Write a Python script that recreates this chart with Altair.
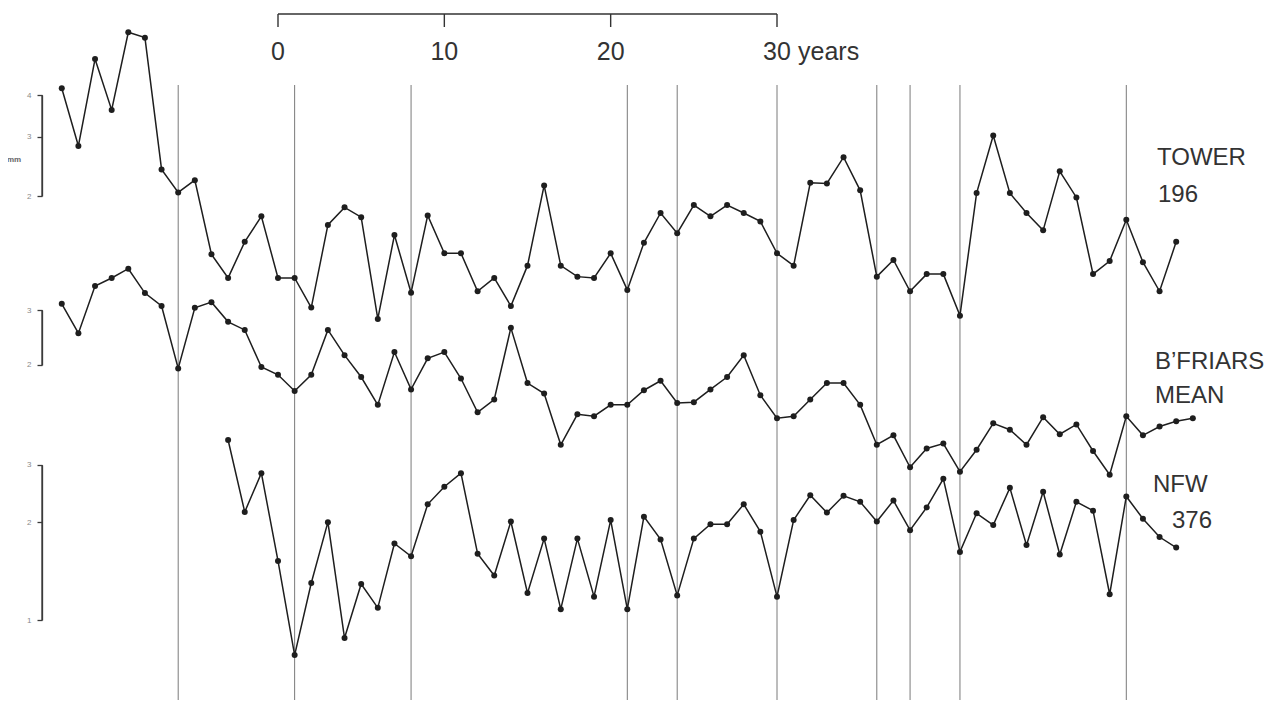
import math
import altair as alt
import pandas as pd

# ---------------- data (ring widths, mm) ----------------
tower_start = -13
tower_mm = [4.19, 2.82, 5.12, 3.61, 6.15, 5.93, 2.40, 2.05, 2.23, 1.34,
            1.14, 1.46, 1.74, 1.14, 1.14, 0.93, 1.64, 1.85, 1.73, 0.86,
            1.53, 1.03, 1.75, 1.35, 1.35, 1.04, 1.14, 0.94, 1.24, 2.15,
            1.24, 1.15, 1.14, 1.35, 1.05, 1.45, 1.78, 1.55, 1.88, 1.74,
            1.88, 1.78, 1.68, 1.35, 1.24, 2.19, 2.18, 2.61, 2.08, 1.15,
            1.29, 1.04, 1.17, 1.17, 0.88, 2.04, 3.03, 2.04, 1.78, 1.58,
            2.37, 1.98, 1.17, 1.28, 1.70, 1.27, 1.04, 1.46]

bf_start = -13
bf_mm = [3.14, 2.53, 3.58, 3.80, 4.07, 3.40, 3.09, 1.95, 3.05, 3.18,
         2.75, 2.59, 1.97, 1.86, 1.65, 1.86, 2.59, 2.15, 1.83, 1.49,
         2.20, 1.67, 2.10, 2.20, 1.81, 1.41, 1.55, 2.63, 1.75, 1.62,
         1.11, 1.39, 1.37, 1.49, 1.49, 1.66, 1.78, 1.51, 1.52, 1.67,
         1.83, 2.15, 1.60, 1.35, 1.37, 1.55, 1.75, 1.75, 1.49, 1.11,
         1.19, 0.94, 1.08, 1.12, 0.91, 1.07, 1.30, 1.24, 1.11, 1.36,
         1.20, 1.29, 1.06, 0.89, 1.37, 1.19, 1.27, 1.32, 1.35]

nfw_start = -3
nfw_mm = [3.58, 2.15, 2.83, 1.52, 0.78, 1.30, 2.00, 0.88, 1.29, 1.09,
          1.72, 1.57, 2.27, 2.57, 2.83, 1.60, 1.37, 2.01, 1.21, 1.78,
          1.08, 1.78, 1.18, 2.03, 1.08, 2.08, 1.77, 1.19, 1.78, 1.97,
          1.97, 2.27, 1.87, 1.18, 2.03, 2.42, 2.14, 2.41, 2.31, 2.01,
          2.33, 1.89, 2.22, 2.72, 1.62, 2.13, 1.96, 2.55, 1.70, 2.48,
          1.59, 2.31, 2.17, 1.20, 2.40, 2.05, 1.80, 1.67]

marker_years = [-6, 1, 8, 21, 24, 30, 36, 38, 41, 51]
scale_ticks = [0, 10, 20, 30]
scale_labels = ["0", "10", "20", "30"]

tower_axis = [4, 3, 2]
bf_axis = [3, 2]
nfw_axis = [3, 2, 1]

FONT = "Liberation Sans"
INK = "#1e1e1e"
AXC = "#3a3a3a"

xs = alt.Scale(domain=[0, 30], range=[270, 769], nice=False)


def series_marks(key, start, vals, axis_vals, y_at_1, px_per_decade, mm_label=False):
    """Each series has its own log scale; its axis is the short bracket
    spanning the labelled values (scale domain = bracket span)."""
    yf = "mm_" + key
    df = pd.DataFrame({"year": list(range(start, start + len(vals))), yf: vals})
    lo, hi = min(axis_vals), max(axis_vals)
    rng = [y_at_1 - px_per_decade * math.log10(lo),
           y_at_1 - px_per_decade * math.log10(hi)]
    ys = alt.Scale(type="log", domain=[lo, hi], range=rng, nice=False)
    bracket_axis = alt.Axis(
        orient="left", offset=-34, values=sorted(axis_vals), title=None,
        grid=False, domainColor=AXC, domainWidth=1.3, tickColor=AXC,
        tickWidth=1.3, tickSize=5, labelFont=FONT, labelFontSize=8,
        labelColor="#8a8a8a", labelPadding=6, labelFlush=False,
        labelOverlap=False, format="d", zindex=2,
    )
    base = alt.Chart(df)
    line = base.mark_line(color=INK, strokeWidth=1.5).encode(
        x=alt.X("year:Q", scale=xs, axis=None),
        y=alt.Y(yf + ":Q", scale=ys, axis=bracket_axis),
    )
    pts = base.mark_circle(color=INK, size=36, opacity=1).encode(
        x=alt.X("year:Q", scale=xs, axis=None),
        y=alt.Y(yf + ":Q", scale=ys, axis=None),
    )
    sdf = pd.DataFrame({"lo_" + key: [float(lo)], "hi_" + key: [float(hi)]})
    spine = alt.Chart(sdf).mark_rule(color=AXC, strokeWidth=1.3).encode(
        x=alt.value(34),
        y=alt.Y("lo_" + key + ":Q", scale=ys, axis=None),
        y2=alt.Y2("hi_" + key + ":Q"),
    )
    layers = [line, pts]
    if mm_label:
        layers.append(
            alt.Chart(pd.DataFrame({"t": ["mm"]})).mark_text(
                font=FONT, fontSize=8, fontWeight="bold", color="#666666",
                align="center", baseline="middle"
            ).encode(x=alt.value(6), y=alt.value(152), text="t:N")
        )
    return layers, spine


tower, tower_spine = series_marks("t", tower_start, tower_mm, tower_axis, 289.0, 335.5, mm_label=True)
bf, bf_spine = series_marks("b", bf_start, bf_mm, bf_axis, 450.9, 312.0)
nfw, nfw_spine = series_marks("n", nfw_start, nfw_mm, nfw_axis, 612.0, 325.0)

vlines = alt.Chart(pd.DataFrame({"year": marker_years})).mark_rule(
    color="#7a7a7a", strokeWidth=1
).encode(
    x=alt.X("year:Q", scale=xs, axis=None),
    y=alt.value(77), y2=alt.value(692),
)

bar_df = pd.DataFrame({"a": [scale_ticks[0]], "b": [scale_ticks[-1]]})
topbar = alt.Chart(bar_df).mark_rule(color="#333333", strokeWidth=1.4).encode(
    x=alt.X("a:Q", scale=xs, axis=None), x2="b:Q", y=alt.value(6)
)
tick_df = pd.DataFrame({"t": scale_ticks, "lab": scale_labels})
topticks = alt.Chart(tick_df).mark_rule(color="#333333", strokeWidth=1.4).encode(
    x=alt.X("t:Q", scale=xs, axis=None), y=alt.value(6), y2=alt.value(19)
)
toplabels = alt.Chart(tick_df).mark_text(
    font=FONT, fontSize=25, color="#333333", align="center", baseline="middle"
).encode(x=alt.X("t:Q", scale=xs, axis=None), y=alt.value(44), text="lab:N")
years_lbl = alt.Chart(pd.DataFrame({"t": [scale_ticks[-1]], "lab": ["years"]})).mark_text(
    font=FONT, fontSize=25, color="#333333", align="left", baseline="middle", dx=21
).encode(x=alt.X("t:Q", scale=xs, axis=None), y=alt.value(44), text="lab:N")


def label(txt, x, y, size=24):
    return alt.Chart(pd.DataFrame({"t": [txt]})).mark_text(
        font=FONT, fontSize=size, color="#333333", align="left", baseline="alphabetic"
    ).encode(x=alt.value(x), y=alt.value(y), text="t:N")


labels = [
    label("TOWER", 1149, 157),
    label("196", 1150, 194),
    label("B\u2019FRIARS", 1147, 361),
    label("MEAN", 1147, 395),
    label("NFW", 1145, 484),
    label("376", 1164, 520),
]

chart = alt.layer(
    vlines, topbar, topticks, toplabels, years_lbl, *tower, *bf, *nfw, *labels,
    tower_spine, bf_spine, nfw_spine,
).resolve_scale(y="independent").resolve_axis(y="independent").properties(
    width=1259, height=692, padding=0,
    autosize=alt.AutoSizeParams(type="none"),
    background="white",
).configure_view(stroke=None)

chart.save("out.html", embed_options={"renderer": "svg", "actions": False})
